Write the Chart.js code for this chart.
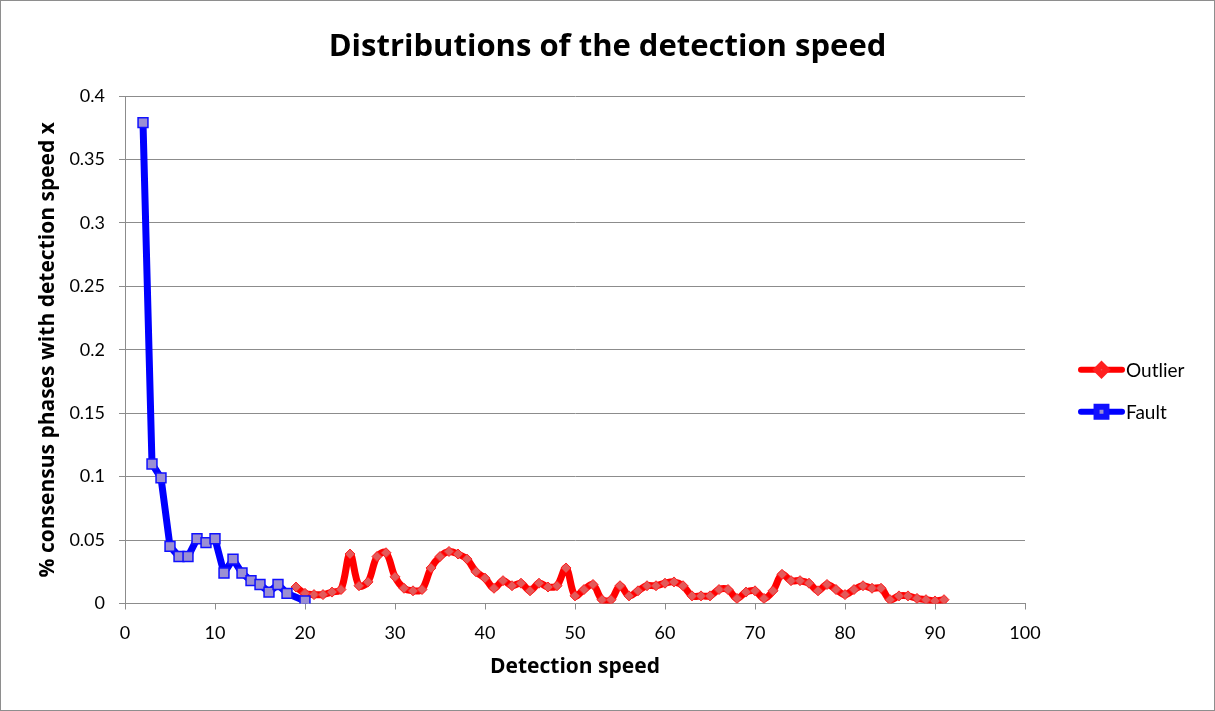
<!DOCTYPE html>
<html>
<head>
<meta charset="utf-8">
<title>Distributions of the detection speed</title>
<script src="https://cdn.jsdelivr.net/npm/chart.js@4.4.1/dist/chart.umd.min.js"></script>
<style>
  html, body { margin: 0; padding: 0; background: #fff; }
  #frame {
    position: absolute; left: 0; top: 0;
    width: 1215px; height: 711px;
    box-sizing: border-box;
    border: 1px solid #8e8e8e;
  }
  #wrap { position: relative; width: 1213px; height: 709px; }
</style>
</head>
<body>
<div id="frame"><div id="wrap"><canvas id="chart"></canvas></div></div>
<script>
// Values
const faultX = [2, 3, 4, 5, 6, 7, 8, 9, 10, 11, 12, 13, 14, 15, 16, 17, 18, 20];
const faultY = [0.379, 0.110, 0.099, 0.045, 0.037, 0.037, 0.051, 0.048, 0.051, 0.024,
                0.035, 0.024, 0.018, 0.015, 0.009, 0.015, 0.008, 0.002];

const outlierX = [19, 20, 21, 22, 23, 24, 25, 26, 27, 28, 29, 30, 31, 32, 33, 34, 35, 36, 37,
                  38, 39, 40, 41, 42, 43, 44, 45, 46, 47, 48, 49, 50, 51, 52, 53, 54, 55, 56,
                  57, 58, 59, 60, 61, 62, 63, 64, 65, 66, 67, 68, 69, 70, 71, 72, 73, 74, 75,
                  76, 77, 78, 79, 80, 81, 82, 83, 84, 85, 86, 87, 88, 89, 90, 91];
const outlierY = [0.013, 0.008, 0.007, 0.007, 0.009, 0.011, 0.039, 0.014, 0.017, 0.037,
                  0.040, 0.021, 0.012, 0.010, 0.011, 0.028, 0.037, 0.041, 0.039, 0.035,
                  0.025, 0.020, 0.012, 0.018, 0.014, 0.016, 0.010, 0.016, 0.013, 0.014,
                  0.028, 0.006, 0.011, 0.015, 0.003, 0.003, 0.014, 0.006, 0.010, 0.014,
                  0.014, 0.016, 0.017, 0.014, 0.006, 0.006, 0.006, 0.011, 0.011, 0.004,
                  0.009, 0.010, 0.004, 0.010, 0.023, 0.018, 0.018, 0.016, 0.010, 0.015,
                  0.011, 0.007, 0.011, 0.014, 0.012, 0.012, 0.003, 0.006, 0.006, 0.004,
                  0.003, 0.002, 0.003];

const xTickLabels = ['0', '10', '20', '30', '40', '50', '60', '70', '80', '90', '100'];
const yTickLabels = ['0', '0.05', '0.1', '0.15', '0.2', '0.25', '0.3', '0.35', '0.4'];
const legendOrder = ['Outlier', 'Fault'];

const FONT = 'Lato, "Open Sans", sans-serif';
const BOLD_FONT = '"Open Sans", Lato, sans-serif';
const GRID = '#8c8c8c';

const toPoints = (xs, ys) => xs.map((x, i) => ({ x: x, y: ys[i] }));

// Legend on the right: line sample with marker, then label
const sideLegend = {
  id: 'sideLegend',
  afterDraw(chart) {
    const { ctx, chartArea } = chart;
    const x0 = chartArea.right + 53;
    const len = 47;
    const mid = (chartArea.top + chartArea.bottom) / 2 + 20;
    legendOrder.forEach((name, i) => {
      const ds = chart.data.datasets.find(d => d.label === name);
      const y = mid + i * 42;
      ctx.save();
      ctx.strokeStyle = ds.borderColor;
      ctx.lineWidth = 6;
      ctx.lineCap = 'round';
      ctx.beginPath();
      ctx.moveTo(x0 + 3, y);
      ctx.lineTo(x0 + len - 3, y);
      ctx.stroke();
      ctx.fillStyle = ds.pointBackgroundColor;
      ctx.strokeStyle = ds.pointBorderColor;
      Chart.helpers.drawPoint(ctx, {
        pointStyle: ds.pointStyle,
        radius: ds.pointRadius,
        borderWidth: ds.pointBorderWidth,
        rotation: 0
      }, x0 + len / 2, y);
      ctx.fillStyle = '#000';
      ctx.font = '19px ' + FONT;
      ctx.textBaseline = 'middle';
      ctx.textAlign = 'left';
      ctx.fillText(name, x0 + len + 1, y + 1);
      ctx.restore();
    });
  }
};

const ctx = document.getElementById('chart').getContext('2d');
new Chart(ctx, {
  type: 'line',
  data: {
    datasets: [
      {
        label: 'Outlier',
        data: toPoints(outlierX, outlierY),
        borderColor: '#ff0000',
        borderWidth: 7,
        borderJoinStyle: 'round',
        borderCapStyle: 'round',
        tension: 0.35,
        pointStyle: 'rectRot',
        pointRadius: 5,
        pointBackgroundColor: '#e35a5a',
        pointBorderColor: '#ff2020',
        pointBorderWidth: 1,
        order: 2
      },
      {
        label: 'Fault',
        data: toPoints(faultX, faultY),
        borderColor: '#0000ff',
        borderWidth: 7,
        borderJoinStyle: 'round',
        borderCapStyle: 'round',
        tension: 0,
        pointStyle: 'rect',
        pointRadius: 7,
        pointBackgroundColor: '#9b8fd3',
        pointBorderColor: '#1010ff',
        pointBorderWidth: 1.5,
        order: 1
      }
    ]
  },
  options: {
    responsive: true,
    maintainAspectRatio: false,
    animation: false,
    layout: { padding: 0 },
    plugins: {
      legend: { display: false },
      tooltip: { enabled: false },
      title: {
        display: true,
        text: 'Distributions of the detection speed',
        color: '#000',
        font: { family: BOLD_FONT, size: 31, weight: 'bold' },
        padding: { top: 27.5, bottom: 30.3 }
      }
    },
    scales: {
      x: {
        type: 'linear',
        min: 0,
        max: 100,
        afterFit: s => { s.height = 106.5; },
        ticks: {
          stepSize: 10,
          color: '#000',
          padding: 13,
          font: { family: FONT, size: 18 },
          callback: (v, i) => xTickLabels[i]
        },
        grid: { drawOnChartArea: false, color: GRID, tickLength: 6 },
        border: { color: GRID },
        title: {
          display: true,
          text: 'Detection speed',
          color: '#000',
          font: { family: BOLD_FONT, size: 21, weight: 'bold' },
          padding: { top: 0, bottom: 30.4 }
        }
      },
      y: {
        min: 0,
        max: 0.4,
        afterFit: s => { s.width = 124; },
        ticks: {
          stepSize: 0.05,
          color: '#000',
          padding: 14,
          font: { family: FONT, size: 18 },
          callback: (v, i) => yTickLabels[i]
        },
        grid: { color: GRID, tickLength: 6 },
        border: { color: GRID },
        title: {
          display: true,
          text: '% consensus phases with detection speed x',
          color: '#000',
          font: { family: BOLD_FONT, size: 21, weight: 'bold' },
          padding: { top: 34.5, bottom: 0 }
        }
      },
      // empty right-hand band that holds the legend
      legendBand: {
        type: 'linear',
        position: 'right',
        afterFit: s => { s.width = 189; },
        ticks: { display: false },
        grid: { display: false },
        border: { display: false }
      }
    }
  },
  plugins: [sideLegend]
});
</script>
</body>
</html>
